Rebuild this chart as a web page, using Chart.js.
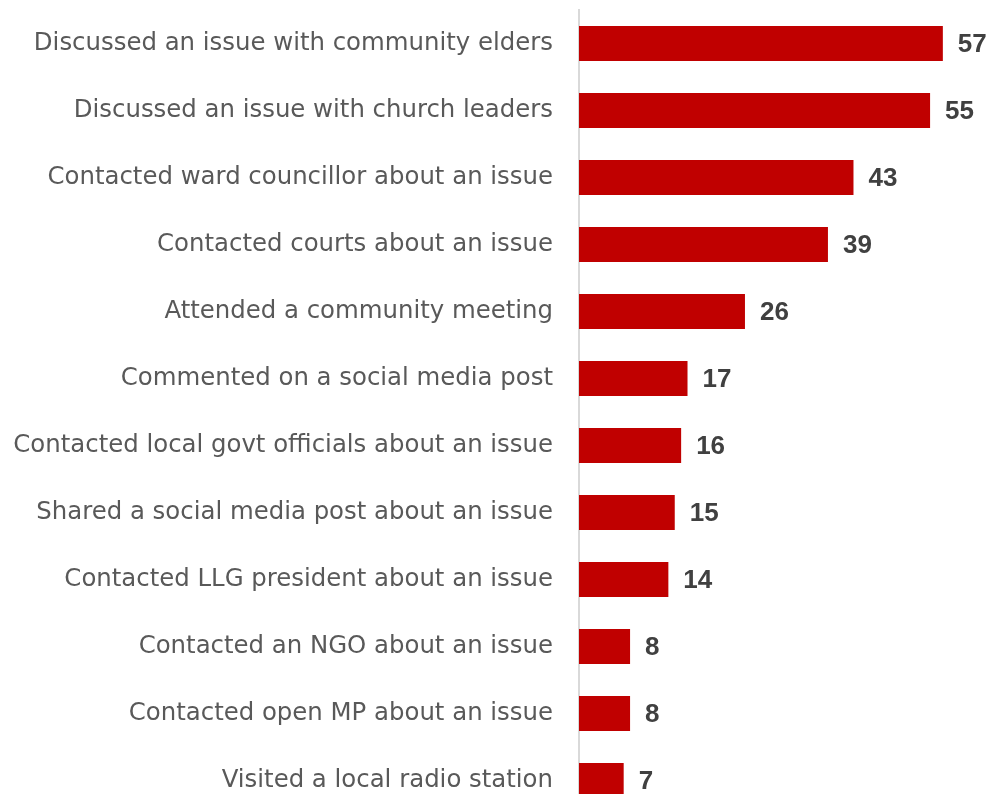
<!DOCTYPE html>
<html>
<head>
<meta charset="utf-8">
<script src="https://cdn.jsdelivr.net/npm/chart.js@4.4.1/dist/chart.umd.min.js"></script>
<style>
  html, body { margin: 0; padding: 0; background: #fff; overflow: hidden; }
  #wrap { position: relative; width: 992px; height: 814px; }
</style>
</head>
<body>
<div id="wrap"><canvas id="chart"></canvas></div>
<script>
// Share of respondents who took each action (%)
const actions = [
  'Discussed an issue with community elders',
  'Discussed an issue with church leaders',
  'Contacted ward councillor about an issue',
  'Contacted courts about an issue',
  'Attended a community meeting',
  'Commented on a social media post',
  'Contacted local govt officials about an issue',
  'Shared a social media post about an issue',
  'Contacted LLG president about an issue',
  'Contacted an NGO about an issue',
  'Contacted open MP about an issue',
  'Visited a local radio station'
]
const percents = [57, 55, 43, 39, 26, 17, 16, 15, 14, 8, 8, 7]

const barRed = '#c00000'
const labelGrey = '#595959'
const valueGrey = '#404040'

// Writes the value just past the end of each bar
const valueLabels = {
  id: 'valueLabels',
  afterDatasetsDraw(chart) {
    const ctx = chart.ctx
    const meta = chart.getDatasetMeta(0)
    ctx.save()
    ctx.font = 'bold 26px "Liberation Sans", Arial, sans-serif'
    ctx.fillStyle = valueGrey
    ctx.textAlign = 'left'
    ctx.textBaseline = 'middle'
    meta.data.forEach((bar, i) => {
      ctx.fillText(String(percents[i]), bar.x + 15, bar.y + 1)
    })
    ctx.restore()
  }
}

const config = {
  type: 'bar',
  data: {
    labels: actions,
    datasets: [{
      data: percents,
      backgroundColor: barRed,
      borderWidth: 0,
      categoryPercentage: 1,
      barPercentage: 0.52
    }]
  },
  options: {
    indexAxis: 'y',
    responsive: true,
    maintainAspectRatio: false,
    animation: false,
    layout: {
      padding: {top: 10, right: 30, bottom: 0, left: 0}
    },
    plugins: {
      legend: {display: false},
      tooltip: {enabled: false}
    },
    scales: {
      x: {
        display: false,
        min: 0,
        max: 60
      },
      y: {
        // fixed label column; tick padding should only push labels sideways
        afterFit(scale) {
          scale.width = 579
          scale.paddingTop = 0
          scale.paddingBottom = 0
        },
        grid: {display: false, drawTicks: false},
        border: {display: true, color: '#d9d9d9', width: 2},
        ticks: {
          color: labelGrey,
          padding: 26,
          font: {family: '"DejaVu Sans", sans-serif', size: 24.4}
        }
      }
    }
  },
  plugins: [valueLabels]
}

new Chart(document.getElementById('chart'), config)
</script>
</body>
</html>
